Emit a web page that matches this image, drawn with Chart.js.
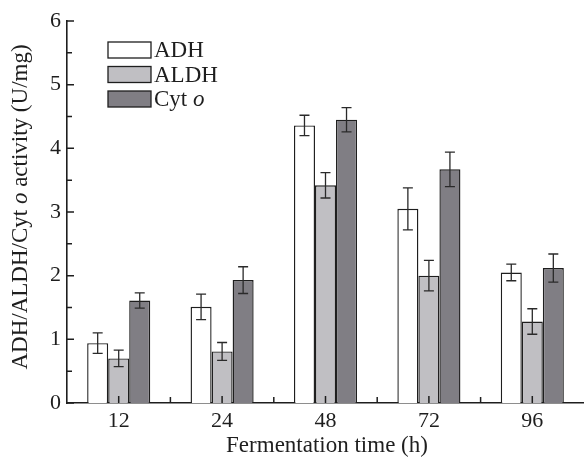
<!DOCTYPE html>
<html>
<head>
<meta charset="utf-8">
<script src="https://cdn.jsdelivr.net/npm/chart.js@4/dist/chart.umd.min.js"></script>
<style>
  html, body { margin: 0; padding: 0; background: #fff; }
  #wrap { width: 584px; height: 462px; position: relative; }
</style>
</head>
<body>
<div id="wrap"><canvas id="myChart"></canvas></div>
<script>
// data
const categories = ['12', '24', '48', '72', '96'];
const adh = [0.94, 1.51, 4.36, 3.05, 2.05];
const adhErr = [0.16, 0.20, 0.16, 0.33, 0.13];
const aldh = [0.70, 0.81, 3.42, 2.00, 1.28];
const aldhErr = [0.13, 0.14, 0.20, 0.24, 0.20];
const cyto = [1.61, 1.93, 4.45, 3.67, 2.12];
const cytoErr = [0.12, 0.21, 0.19, 0.27, 0.22];
const yTicks = [0, 1, 2, 3, 4, 5, 6];

const FONT = "'Liberation Serif', 'DejaVu Serif', serif";
const INK = '#1e1e1e';
const colors = ['#ffffff', '#c0bfc3', '#807e84'];
const errs = [adhErr, aldhErr, cytoErr];

// error bars, inward ticks, legend and axis titles
const extras = {
  id: 'extras',
  afterDatasetsDraw(chart) {
    const ctx = chart.ctx;
    const y = chart.scales.y;
    const x = chart.scales.x;
    ctx.save();

    // error bars
    ctx.strokeStyle = '#2a2a2a';
    ctx.lineWidth = 1.3;
    chart.data.datasets.forEach((ds, i) => {
      chart.getDatasetMeta(i).data.forEach((bar, j) => {
        const v = ds.data[j], e = errs[i][j];
        const top = y.getPixelForValue(v + e);
        const bot = y.getPixelForValue(v - e);
        ctx.beginPath();
        ctx.moveTo(bar.x, top); ctx.lineTo(bar.x, bot);
        ctx.moveTo(bar.x - 5, top); ctx.lineTo(bar.x + 5, top);
        ctx.moveTo(bar.x - 5, bot); ctx.lineTo(bar.x + 5, bot);
        ctx.stroke();
      });
    });

    // inward ticks
    ctx.strokeStyle = INK;
    ctx.lineWidth = 1.5;
    const left = chart.chartArea.left, bottom = chart.chartArea.bottom;
    ctx.beginPath();
    for (let v = 0; v <= 6; v += 0.5) {
      const py = y.getPixelForValue(v);
      const len = Number.isInteger(v) ? 7 : 5;
      ctx.moveTo(left, py); ctx.lineTo(left + len, py);
    }
    categories.forEach((c, i) => {
      const px = x.getPixelForValue(i);
      ctx.moveTo(px, bottom); ctx.lineTo(px, bottom - 7);
      if (i < categories.length - 1) {
        const mid = (px + x.getPixelForValue(i + 1)) / 2;
        ctx.moveTo(mid, bottom); ctx.lineTo(mid, bottom - 6);
      }
    });
    ctx.stroke();

    // legend
    const names = [['ADH', ''], ['ALDH', ''], ['Cyt ', 'o']];
    ctx.textBaseline = 'middle';
    ctx.textAlign = 'left';
    names.forEach((n, i) => {
      const by = 42 + i * 24.5;
      ctx.fillStyle = colors[i];
      ctx.fillRect(108, by, 43, 16);
      ctx.strokeStyle = INK;
      ctx.lineWidth = 1.3;
      ctx.strokeRect(108, by, 43, 16);
      ctx.fillStyle = INK;
      ctx.font = '23px ' + FONT;
      ctx.fillText(n[0], 154, by + 9);
      if (n[1]) {
        const w = ctx.measureText(n[0]).width;
        ctx.font = 'italic 23px ' + FONT;
        ctx.fillText(n[1], 154 + w, by + 9);
      }
    });

    // y title with italic o
    const parts = [['ADH/ALDH/Cyt ', ''], ['o', 'italic '], [' activity (U/mg)', '']];
    ctx.translate(21, 207);
    ctx.rotate(-Math.PI / 2);
    let total = 0;
    parts.forEach(p => { ctx.font = p[1] + '23px ' + FONT; total += ctx.measureText(p[0]).width; });
    let cx = -total / 2;
    parts.forEach(p => {
      ctx.font = p[1] + '23px ' + FONT;
      ctx.fillText(p[0], cx, 0);
      cx += ctx.measureText(p[0]).width;
    });
    ctx.restore();

    // x title
    ctx.save();
    ctx.font = '23px ' + FONT;
    ctx.fillStyle = INK;
    ctx.textAlign = 'center';
    ctx.textBaseline = 'middle';
    ctx.fillText('Fermentation time (h)', 327, 446);
    ctx.restore();
  }
};

new Chart(document.getElementById('myChart'), {
  type: 'bar',
  data: {
    labels: categories,
    datasets: [
      { label: 'ADH', data: adh, backgroundColor: colors[0] },
      { label: 'ALDH', data: aldh, backgroundColor: colors[1] },
      { label: 'Cyt o', data: cyto, backgroundColor: colors[2] }
    ].map(d => Object.assign(d, {
      borderColor: INK, borderWidth: 1.4, barPercentage: 1, categoryPercentage: 0.61
    }))
  },
  options: {
    responsive: true,
    maintainAspectRatio: false,
    animation: false,
    layout: { padding: { top: 21, right: 0, left: 0, bottom: 0 } },
    plugins: { legend: { display: false }, tooltip: { enabled: false } },
    scales: {
      x: {
        grid: { display: false, drawTicks: false },
        border: { display: true, color: INK, width: 1.6 },
        ticks: { color: INK, font: { family: FONT, size: 22 }, padding: 5 },
        afterFit: s => { s.height = 59; }
      },
      y: {
        min: 0, max: 6,
        afterBuildTicks: s => { s.ticks = yTicks.map(v => ({ value: v })); },
        grid: { display: false, drawTicks: false },
        border: { display: true, color: INK, width: 1.6 },
        ticks: { color: INK, font: { family: FONT, size: 22 }, padding: 6 },
        afterFit: s => { s.width = 67; }
      }
    }
  },
  plugins: [extras]
});
</script>
</body>
</html>
